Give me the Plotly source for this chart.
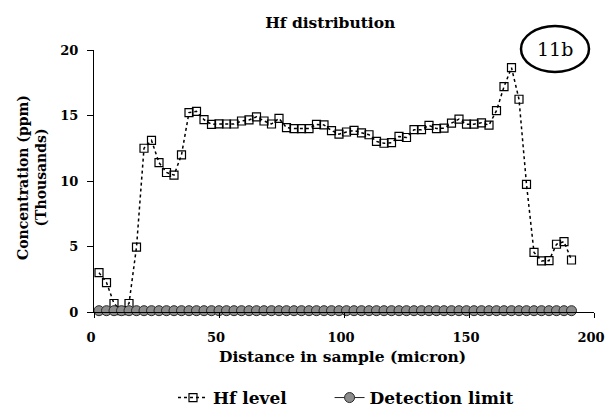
import plotly.graph_objects as go

distance = [2, 5, 8, 11, 14, 17, 20, 23, 26, 29, 32, 35, 38, 41, 44, 47,
            50, 53, 56, 59, 62, 65, 68, 71, 74, 77, 80, 83, 86, 89, 92, 95,
            98, 101, 104, 107, 110, 113, 116, 119, 122, 125, 128, 131, 134, 137, 140, 143,
            146, 149, 152, 155, 158, 161, 164, 167, 170, 173, 176, 179, 182, 185, 188, 191]

hf_level = [3.0, 2.25, 0.65, 0.1, 0.65, 4.95, 12.5, 13.1, 11.4, 10.65, 10.45, 12.0, 15.22, 15.32, 14.68, 14.33,
            14.36, 14.35, 14.35, 14.58, 14.66, 14.9, 14.58, 14.35, 14.78, 14.07, 14.0, 14.0, 14.0, 14.32, 14.28, 13.85,
            13.58, 13.74, 13.86, 13.68, 13.53, 13.02, 12.88, 12.93, 13.4, 13.32, 13.92, 13.92, 14.24, 14.0, 14.03, 14.42,
            14.72, 14.34, 14.34, 14.44, 14.27, 15.37, 17.2, 18.65, 16.24, 9.75, 4.55, 3.9, 3.92, 5.17, 5.37, 3.97]

detection_limit = [0.1, 0.1, 0.1, 0.1, 0.1, 0.1, 0.1, 0.1, 0.1, 0.1, 0.1, 0.1, 0.1, 0.1, 0.1, 0.1,
                   0.1, 0.1, 0.1, 0.1, 0.1, 0.1, 0.1, 0.1, 0.1, 0.1, 0.1, 0.1, 0.1, 0.1, 0.1, 0.1,
                   0.1, 0.1, 0.1, 0.1, 0.1, 0.1, 0.1, 0.1, 0.1, 0.1, 0.1, 0.1, 0.1, 0.1, 0.1, 0.1,
                   0.1, 0.1, 0.1, 0.1, 0.1, 0.1, 0.1, 0.1, 0.1, 0.1, 0.1, 0.1, 0.1, 0.1, 0.1, 0.1]

x_ticks = [0, 50, 100, 150, 200]
y_ticks = [0, 5, 10, 15, 20]

FONT = "DejaVu Serif"

fig = go.Figure()
fig.add_trace(go.Scatter(
    x=distance, y=hf_level, name="<b>Hf level</b>" + "&nbsp;" * 7, mode="lines+markers",
    line=dict(color="black", width=1.5, dash="dot"),
    marker=dict(symbol="square-open", size=8, color="black", line=dict(width=1.2, color="black")),
    cliponaxis=False,
))
fig.add_trace(go.Scatter(
    x=distance, y=detection_limit, name="<b>Detection limit</b>", mode="lines+markers",
    line=dict(color="#222222", width=1),
    marker=dict(symbol="circle", size=10, color="#8c8c8c", line=dict(width=1, color="#2a2a2a")),
    cliponaxis=False,
))

fig.update_layout(
    width=606, height=409,
    margin=dict(l=94, r=12, t=50, b=97, autoexpand=False),
    paper_bgcolor="white", plot_bgcolor="white",
    font=dict(family=FONT, color="black"),
    title=dict(text="<b>Hf distribution</b>", x=0.545, xanchor="center", y=1 - 22.5 / 409,
               yanchor="middle", font=dict(size=15.5, family=FONT)),
    showlegend=True,
    legend=dict(orientation="h", xref="container", yref="container",
                x=346 / 606, xanchor="center", y=1 - 398 / 409, yanchor="middle",
                font=dict(size=17, family=FONT), itemwidth=30, tracegroupgap=0,
                bgcolor="rgba(0,0,0,0)"),
    xaxis=dict(range=[0, 200], tickvals=x_ticks, ticks="outside", ticklen=5, tickwidth=1.2,
               tickcolor="black", showline=True, linecolor="black", linewidth=1.3,
               showgrid=False, zeroline=False, ticklabelstandoff=8, automargin=False,
               ticklabeloverflow="allow", ticklabelshift=-3,
               tickfont=dict(size=13, family=FONT, weight="bold")),
    yaxis=dict(range=[0, 20], tickvals=y_ticks, ticks="outside", ticklen=6, tickwidth=1.2,
               tickcolor="black", showline=True, linecolor="black", linewidth=1.3,
               showgrid=False, zeroline=False, ticklabelstandoff=6, automargin=False,
               tickfont=dict(size=13, family=FONT, weight="bold")),
)

fig.add_annotation(text="<b>Concentration (ppm)<br>(Thousands)</b>", textangle=-90,
                   xref="paper", yref="paper", x=(32 - 94) / 500, y=(312 - 178) / 262,
                   xanchor="center", yanchor="middle", showarrow=False,
                   font=dict(size=14, family=FONT))
fig.add_annotation(text="<b>Distance in sample (micron)</b>",
                   xref="paper", yref="paper", x=(342 - 94) / 500, y=(312 - 356) / 262,
                   xanchor="center", yanchor="middle", showarrow=False,
                   font=dict(size=15.5, family=FONT))

fig.add_shape(type="circle", xref="paper", yref="paper",
              x0=(521 - 94) / 500, x1=(589 - 94) / 500,
              y0=(312 - 72) / 262, y1=(312 - 26) / 262,
              line=dict(color="black", width=2.5))
fig.add_annotation(text="11b", xref="paper", yref="paper",
                   x=(555 - 94) / 500, y=(312 - 49) / 262,
                   xanchor="center", yanchor="middle", showarrow=False,
                   font=dict(size=19, family=FONT))

fig.write_html("out.html")
